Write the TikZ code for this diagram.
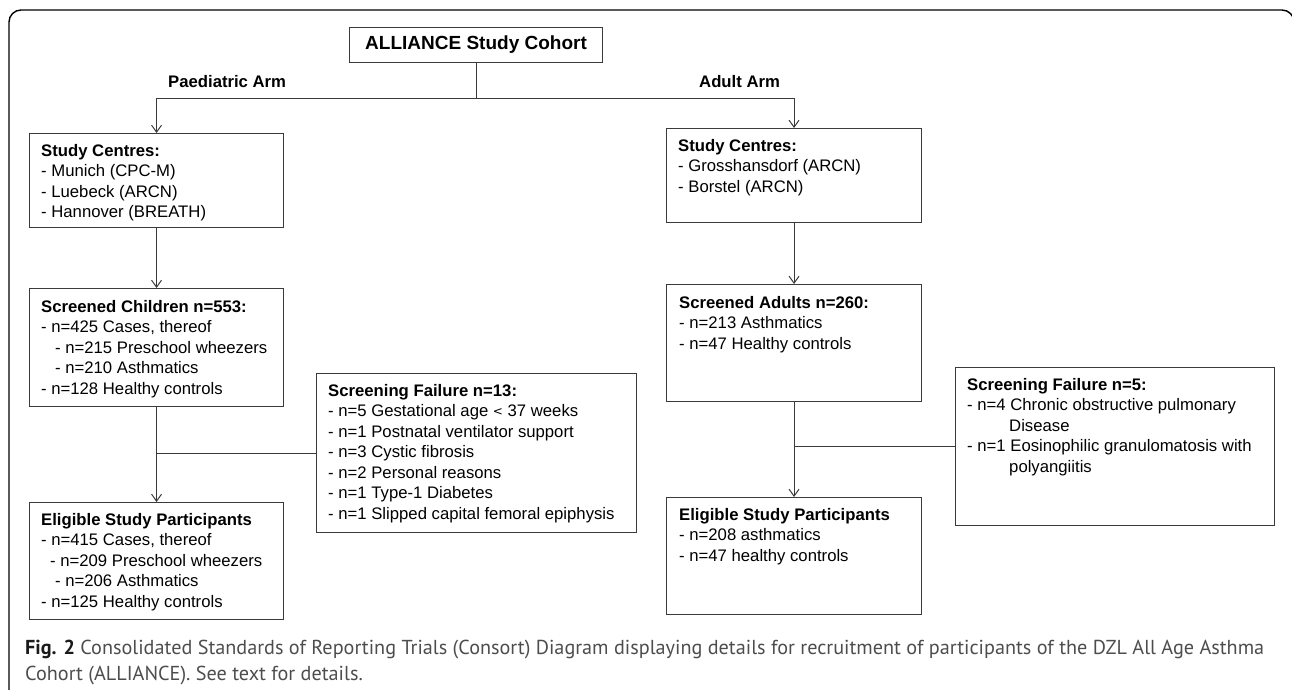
\documentclass[tikz,border=0pt]{standalone}
\usepackage{fontspec}
\setmainfont{Liberation Sans}
\newfontfamily\capfont{PT Sans}
\usetikzlibrary{arrows.meta,calc}
\definecolor{linec}{HTML}{3A3A3A}
\definecolor{capc}{HTML}{4D4D4D}
\definecolor{capb}{HTML}{1A1A1A}
\newcommand{\bxtext}[1]{\parbox[t]{330pt}{\raggedright\fontsize{16.7}{20.5}\selectfont #1}}
\newsavebox\capA
\begin{document}
\sbox\capA{\capfont\fontsize{19}{26}\selectfont\textcolor{capb}{\bfseries Fig. 2} \textcolor{capc}{Consolidated Standards of Reporting Trials (Consort) Diagram displaying details for recruitment of participants of the DZL All Age Asthma}}%
\begin{tikzpicture}[x=1pt,y=-1pt,
  box/.style={draw=linec, line width=1.1pt, anchor=north west, inner sep=0pt},
  txt/.style={anchor=base west, inner sep=0pt, text=black},
  lbl/.style={anchor=base west, inner sep=0pt, font=\bfseries\fontsize{16.7}{20}\selectfont},
  conn/.style={draw=linec, line width=1.1pt},
  arr/.style={conn, -{Straight Barb[length=7pt,width=10pt,line width=1pt]}},
  ]
\useasboundingbox (0,0) rectangle (1292,689);
\draw[line width=1.4pt, rounded corners=12pt] (9,690) -- (9,10) -- (1294,10) -- (1294,690);

% top box
\node[box, minimum width=253pt, minimum height=35pt, font=\bfseries\fontsize{19}{23}\selectfont] (all) at (349,27) {ALLIANCE Study Cohort};
\node[lbl] (pa) at (168,87) {Paediatric Arm};
\node[lbl] (aa) at (699,87) {Adult Arm};

% paediatric arm
\node[box, minimum width=254pt, minimum height=94pt] (scL) at (29,133) {};
\node[txt] (tscL) at (41,156) {\bxtext{\textbf{Study Centres:}\\
- Munich (CPC-M)\\
- Luebeck (ARCN)\\
- Hannover (BREATH)}};

\node[box, minimum width=254pt, minimum height=118pt] (chL) at (29,288) {};
\node[txt] (tchL) at (41,312) {\bxtext{\textbf{Screened Children n=553:}\\
- n=425 Cases, thereof\\
\hspace*{14pt}- n=215 Preschool wheezers\\
\hspace*{14pt}- n=210 Asthmatics\\
- n=128 Healthy controls}};

\node[box, minimum width=320pt, minimum height=159pt] (sfL) at (316,373) {};
\node[txt] (tsfL) at (328,396) {\bxtext{\textbf{Screening Failure n=13:}\\
- n=5 Gestational age {\fontspec{DejaVu Sans}\fontsize{12}{12}\selectfont\raisebox{1pt}{<}} 37 weeks\\
- n=1 Postnatal ventilator support\\
- n=3 Cystic fibrosis\\
- n=2 Personal reasons\\
- n=1 Type-1 Diabetes\\
- n=1 Slipped capital femoral epiphysis}};

\node[box, minimum width=254pt, minimum height=117pt] (elL) at (29,502) {};
\node[txt] (telL) at (41,525) {\bxtext{\textbf{Eligible Study Participants}\\
- n=415 Cases, thereof\\
\hspace*{9pt}- n=209 Preschool wheezers\\
\hspace*{14pt}- n=206 Asthmatics\\
- n=125 Healthy controls}};

% adult arm
\node[box, minimum width=255pt, minimum height=94pt] (scR) at (666,128) {};
\node[txt] (tscR) at (678,151) {\bxtext{\textbf{Study Centres:}\\
- Grosshansdorf (ARCN)\\
- Borstel (ARCN)}};

\node[box, minimum width=255pt, minimum height=117pt] (chR) at (666,284) {};
\node[txt] (tchR) at (679,308) {\bxtext{\textbf{Screened Adults n=260:}\\
- n=213 Asthmatics\\
- n=47 Healthy controls}};

\node[box, minimum width=319pt, minimum height=158pt] (sfR) at (955,367) {};
\node[txt] (tsfR) at (967,390) {\bxtext{\textbf{Screening Failure n=5:}\\
- n=4 Chronic obstructive pulmonary\\
\hspace*{42pt}Disease\\
- n=1 Eosinophilic granulomatosis with\\
\hspace*{42pt}polyangiitis}};

\node[box, minimum width=255pt, minimum height=117pt] (elR) at (666,497) {};
\node[txt] (telR) at (679,520) {\bxtext{\textbf{Eligible Study Participants}\\
- n=208 asthmatics\\
- n=47 healthy controls}};

% connectors
\coordinate (split) at ($(all.south)+(0,35)$);
\draw[arr] (all.south) -- (split) -| (scL.north);
\draw[arr] (split) -| (scR.north);
\draw[arr] (scL.south) -- (chL.north);
\draw[arr] (chL.south) -- (elL.north);
\draw[conn] (sfL.west) -- (sfL.west -| chL.south);
\draw[arr] (scR.south) -- (chR.north);
\draw[arr] (chR.south) -- (elR.north);
\draw[conn] (sfR.west) -- (sfR.west -| chR.south);

% caption
\pgfmathsetmacro\capscale{1239/\wd\capA}
\node[anchor=base west, inner sep=0pt] (cap1) at (25,654) {\scalebox{\capscale}{\usebox\capA}};
\node[anchor=base west, inner sep=0pt] (cap2) at (25,680) {\scalebox{\capscale}{\capfont\fontsize{19}{26}\selectfont\textcolor{capc}{Cohort (ALLIANCE). See text for details.}}};
\end{tikzpicture}
\end{document}
